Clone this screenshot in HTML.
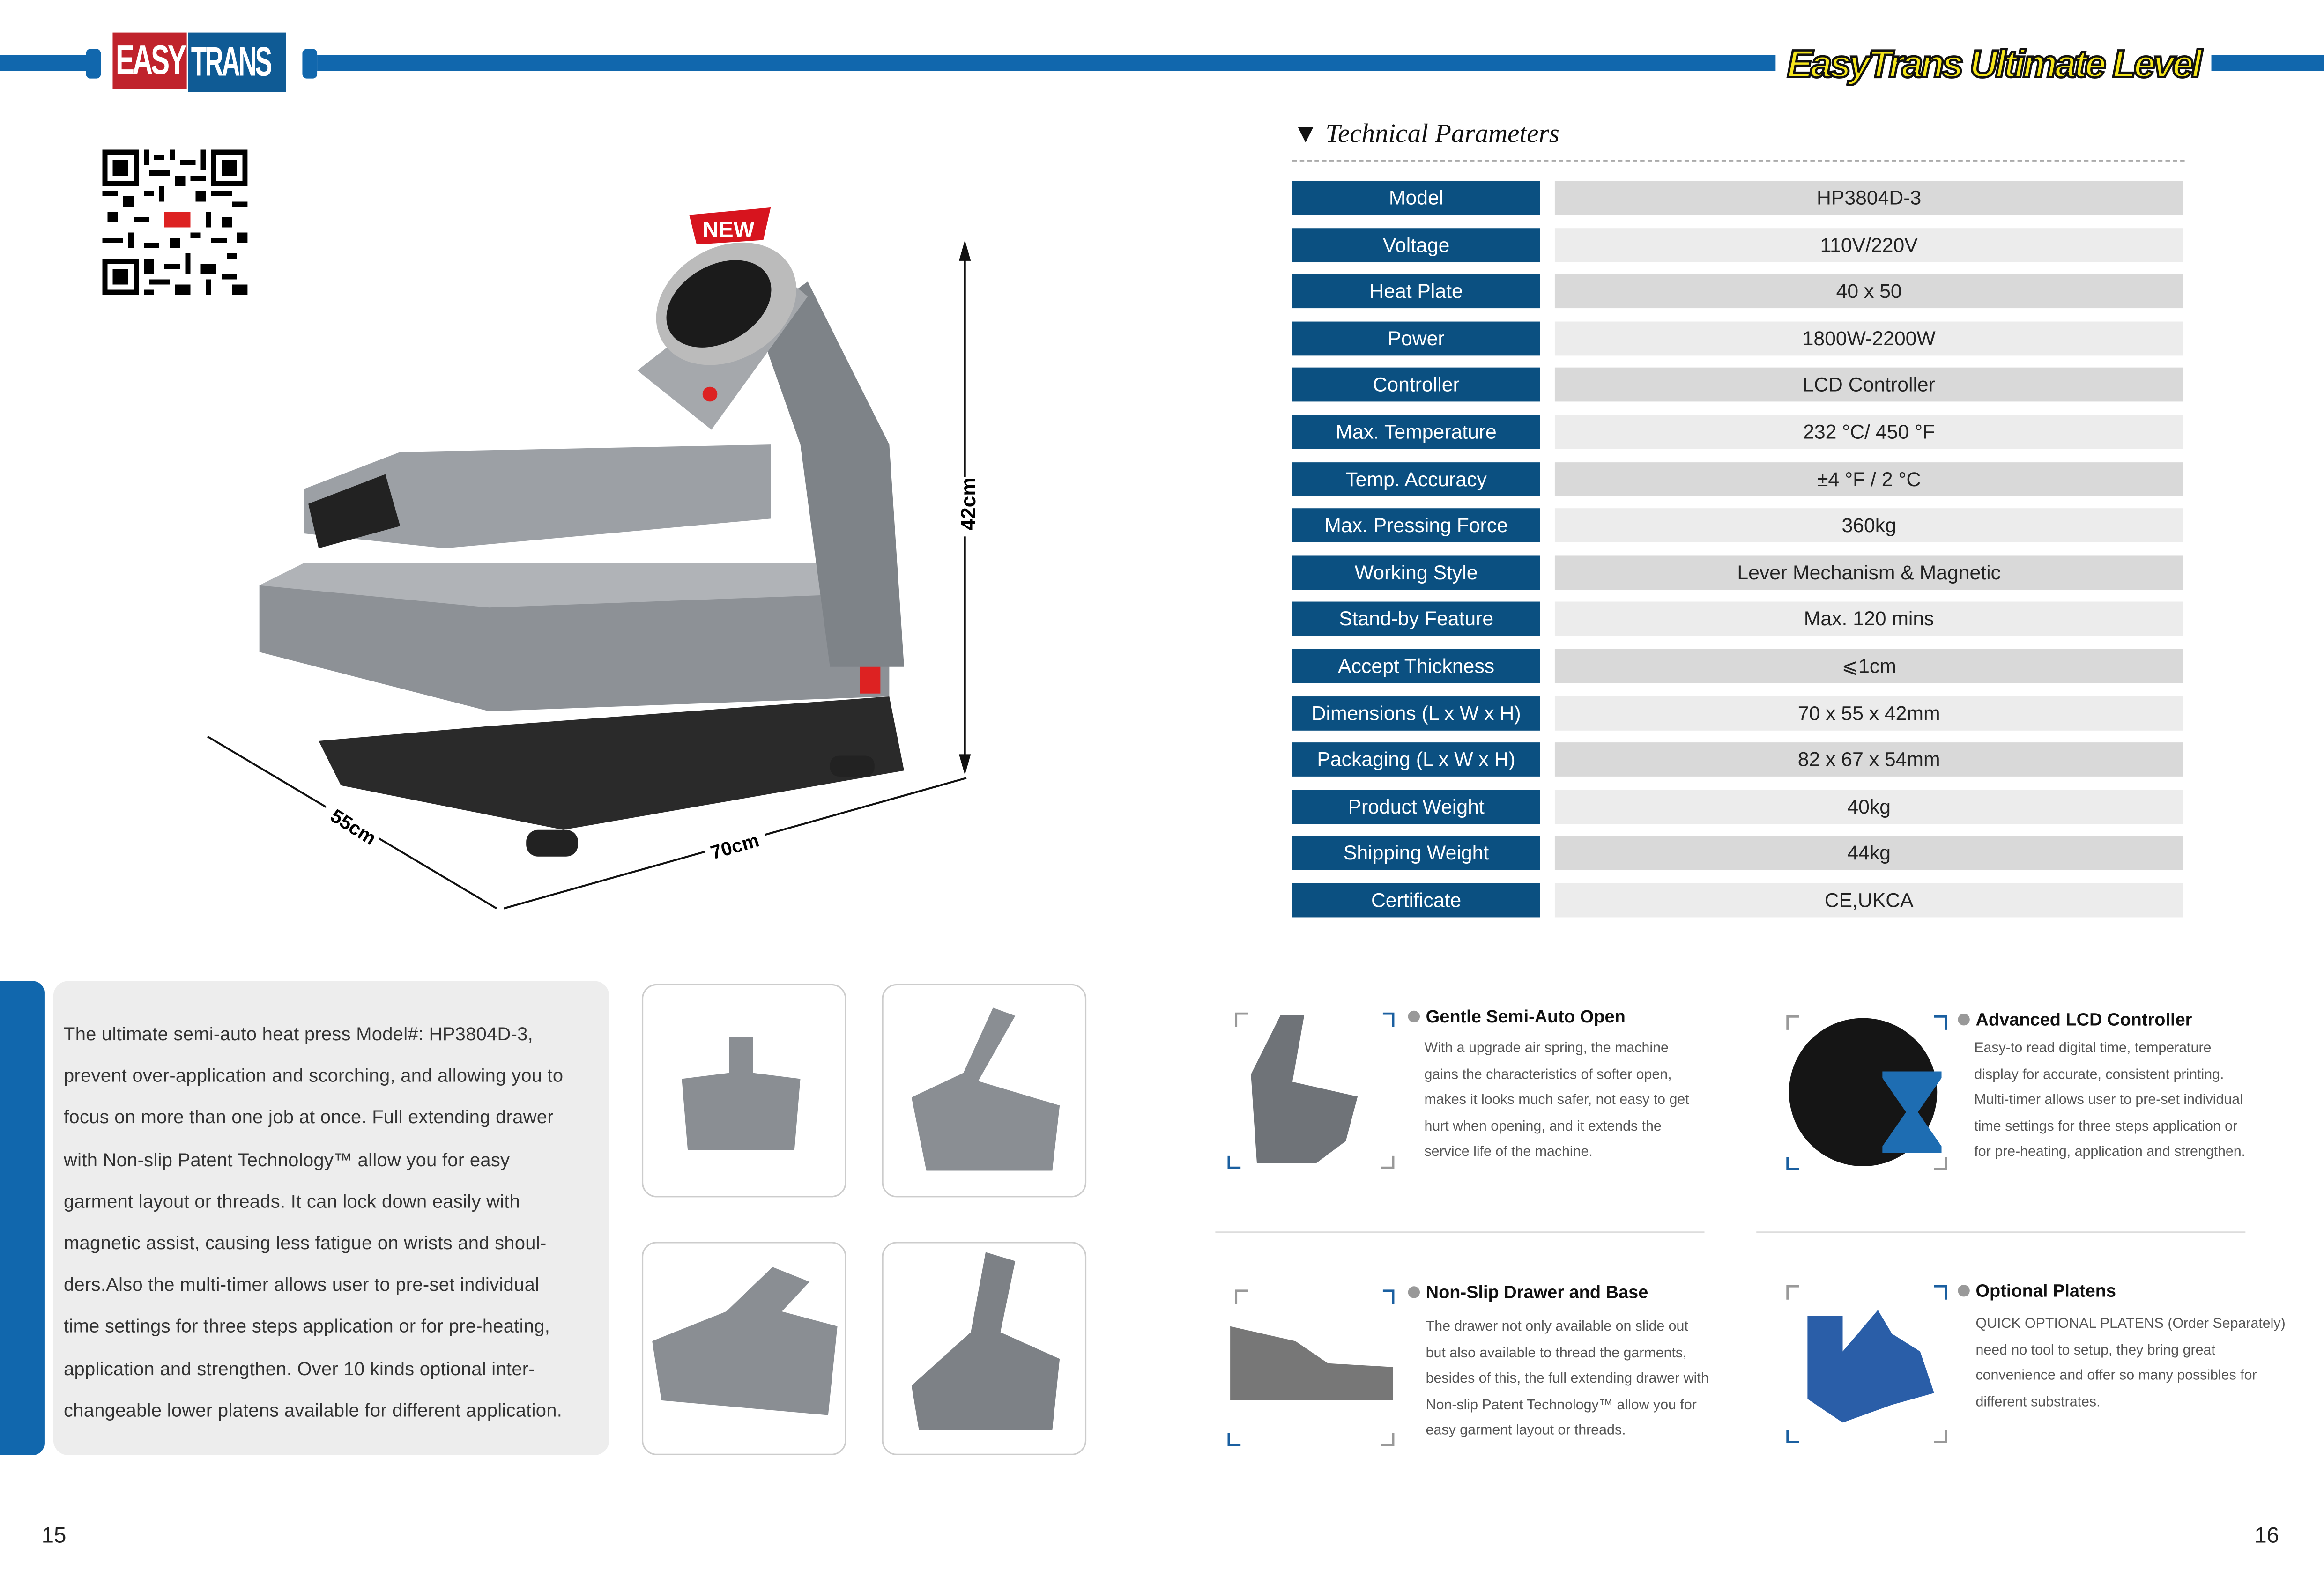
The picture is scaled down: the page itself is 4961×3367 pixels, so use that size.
<!DOCTYPE html>
<html><head><meta charset="utf-8"><style>
html,body{margin:0;padding:0;background:#fff;overflow:hidden}
body{width:4961px;height:3367px}
#s{position:absolute;left:0;top:0;width:1568px;height:1064px;transform:scale(3.16390);transform-origin:0 0;font-family:"Liberation Sans",sans-serif;color:#333}
.a{position:absolute}
.l{position:absolute;left:872px;width:167px;height:23px;background:#0b5081;color:#fff;font-size:13.5px;line-height:23px;text-align:center}
.r{position:absolute;left:1049px;width:424px;height:23px;color:#222;font-size:13.5px;line-height:23px;text-align:center}
.t{position:absolute;font-size:9.6px;line-height:17.6px;color:#555;white-space:nowrap}
.h{position:absolute;font-size:12px;font-weight:bold;color:#111}
.h:before{content:"";display:inline-block;width:8px;height:8px;border-radius:50%;background:#999;margin-right:4px}
.th{position:absolute;width:136px;height:142px;border:1px solid #ccc;border-radius:10px;background:#fff}
</style></head><body><div id="s">
<!-- header -->
<div class="a" style="left:0;top:37px;width:62px;height:11px;background:#1167ad"></div>
<div class="a" style="left:58px;top:33px;width:10px;height:20px;background:#1167ad;border-radius:3px"></div>
<div class="a" style="left:204px;top:33px;width:10px;height:20px;background:#1167ad;border-radius:3px"></div>
<div class="a" style="left:214px;top:37px;width:984px;height:11px;background:#1167ad"></div>
<div class="a" style="left:1492px;top:37px;width:76px;height:11px;background:#1167ad"></div>
<div class="a" style="left:76px;top:22px;width:50px;height:38px;background:#c0232c;overflow:hidden"><div style="color:#fff;font:bold 28px/38px 'Liberation Sans',sans-serif;letter-spacing:-2px;transform:scaleX(.68);transform-origin:0 0;white-space:nowrap;padding-left:3px">EASY</div></div>
<div class="a" style="left:127px;top:22px;width:66px;height:40px;background:#0f5b95;overflow:hidden"><div style="color:#fff;font:bold 28px/40px 'Liberation Sans',sans-serif;letter-spacing:-2px;transform:scaleX(.62);transform-origin:0 0;white-space:nowrap;padding-left:3px">TRANS</div></div>
<div class="a" style="left:1205px;top:26px;width:280px;height:34px;color:#f5e61b;font:italic bold 26px/34px 'Liberation Sans',sans-serif;-webkit-text-stroke:1.5px #111;letter-spacing:-1.5px;text-align:center">EasyTrans Ultimate Level</div>
<!-- QR -->
<svg class="a" style="left:69px;top:101px" width="98" height="98" viewBox="0 0 28 28" shape-rendering="crispEdges">
<rect width="28" height="28" fill="#fff"/>
<g fill="#000"><rect x="0" y="0" width="7" height="7"/><rect x="21" y="0" width="7" height="7"/><rect x="0" y="21" width="7" height="7"/></g>
<g fill="#fff"><rect x="1" y="1" width="5" height="5"/><rect x="22" y="1" width="5" height="5"/><rect x="1" y="22" width="5" height="5"/></g>
<g fill="#000"><rect x="2" y="2" width="3" height="3"/><rect x="23" y="2" width="3" height="3"/><rect x="2" y="23" width="3" height="3"/>
<rect x="8" y="0" width="1" height="3"/><rect x="10" y="1" width="2" height="1"/><rect x="13" y="0" width="1" height="2"/><rect x="15" y="2" width="3" height="1"/><rect x="19" y="0" width="1" height="4"/><rect x="9" y="4" width="4" height="1"/><rect x="14" y="5" width="2" height="2"/><rect x="17" y="5" width="3" height="1"/>
<rect x="0" y="8" width="3" height="1"/><rect x="4" y="9" width="2" height="2"/><rect x="8" y="8" width="2" height="1"/><rect x="11" y="7" width="1" height="3"/><rect x="18" y="8" width="2" height="2"/><rect x="21" y="8" width="4" height="1"/><rect x="25" y="10" width="3" height="1"/>
<rect x="1" y="12" width="2" height="2"/><rect x="6" y="13" width="3" height="1"/><rect x="20" y="12" width="1" height="3"/><rect x="23" y="13" width="2" height="2"/>
<rect x="0" y="17" width="4" height="1"/><rect x="5" y="16" width="1" height="3"/><rect x="8" y="18" width="3" height="1"/><rect x="13" y="17" width="2" height="2"/><rect x="17" y="16" width="2" height="1"/><rect x="21" y="17" width="3" height="1"/><rect x="26" y="16" width="2" height="2"/>
<rect x="8" y="21" width="2" height="3"/><rect x="12" y="22" width="3" height="1"/><rect x="16" y="20" width="1" height="4"/><rect x="19" y="22" width="3" height="2"/><rect x="24" y="20" width="2" height="1"/><rect x="9" y="25" width="4" height="1"/><rect x="14" y="26" width="3" height="2"/><rect x="20" y="25" width="1" height="3"/><rect x="23" y="24" width="3" height="1"/><rect x="25" y="26" width="3" height="2"/><rect x="8" y="27" width="2" height="1"/></g>
<rect x="11" y="11" width="7" height="5" fill="#fff"/><rect x="12" y="12" width="5" height="3" fill="#d22"/></svg>
<!-- product illustration -->
<svg class="a" style="left:130px;top:140px" width="540" height="480" viewBox="130 140 540 480">
<polygon points="465,145 520,140 515,162 470,165" fill="#d7141e"/>
<text x="474" y="160" font-size="15" font-weight="bold" fill="#fff" font-family="Liberation Sans">NEW</text>
<path d="M215,500 L330,490 L600,470 L610,520 L380,560 L230,530Z" fill="#2a2a2a"/>
<rect x="355" y="560" width="35" height="18" rx="8" fill="#222"/>
<rect x="560" y="510" width="30" height="14" rx="6" fill="#222"/>
<path d="M175,395 L205,380 L560,380 L600,400 L600,470 L330,480 L175,440Z" fill="#8d9196"/>
<path d="M175,395 L205,380 L560,380 L600,400 L330,410Z" fill="#b0b3b7"/>
<path d="M510,215 L545,190 L600,300 L610,450 L560,450 L540,300Z" fill="#7e8388"/>
<path d="M205,330 L270,305 L520,300 L520,350 L300,370 L205,360Z" fill="#9ca0a5"/>
<path d="M208,340 L260,320 L270,355 L215,370Z" fill="#222"/>
<path d="M430,250 L520,180 L545,200 L480,290Z" fill="#a5a8ac"/>
<ellipse cx="490" cy="205" rx="50" ry="38" fill="#bbb" transform="rotate(-30 490 205)"/>
<ellipse cx="485" cy="205" rx="38" ry="26" fill="#1b1b1b" transform="rotate(-30 485 205)"/>
<circle cx="479" cy="266" r="5" fill="#d22"/>
<rect x="580" y="450" width="14" height="18" fill="#d22"/>
<line x1="651" y1="165" x2="651" y2="520" stroke="#111" stroke-width="1.3"/>
<polygon points="651,162 647,176 655,176" fill="#111"/><polygon points="651,523 647,509 655,509" fill="#111"/>
<line x1="140" y1="497" x2="335" y2="613" stroke="#111" stroke-width="1.3"/>
<line x1="340" y1="613" x2="652" y2="525" stroke="#111" stroke-width="1.3"/>
<rect x="638" y="322" width="26" height="40" fill="#fff"/>
<text x="658" y="358" font-size="14" font-weight="bold" transform="rotate(-90 658 358)" font-family="Liberation Sans">42cm</text>
<rect x="220" y="540" width="36" height="32" fill="#fff"/><text x="222" y="553" font-size="13" font-weight="bold" transform="rotate(32 222 553)" font-family="Liberation Sans">55cm</text>
<rect x="476" y="556" width="40" height="26" fill="#fff"/><text x="481" y="580" font-size="13" font-weight="bold" transform="rotate(-16 481 580)" font-family="Liberation Sans">70cm</text>
</svg>
<!-- Tech params -->
<div class="a" style="left:872px;top:80px;font:italic 18px 'Liberation Serif',serif;color:#111">▼ Technical Parameters</div>
<div class="a" style="left:872px;top:108px;width:602px;border-top:1.5px dashed #aaa"></div>
<div class="l" style="top:122px">Model</div><div class="r" style="top:122px;background:#d9d9d9">HP3804D-3</div>
<div class="l" style="top:153.6px">Voltage</div><div class="r" style="top:153.6px;background:#ececec">110V/220V</div>
<div class="l" style="top:185.2px">Heat Plate</div><div class="r" style="top:185.2px;background:#d9d9d9">40 x 50</div>
<div class="l" style="top:216.8px">Power</div><div class="r" style="top:216.8px;background:#ececec">1800W-2200W</div>
<div class="l" style="top:248.4px">Controller</div><div class="r" style="top:248.4px;background:#d9d9d9">LCD Controller</div>
<div class="l" style="top:280px">Max. Temperature</div><div class="r" style="top:280px;background:#ececec">232 °C/ 450 °F</div>
<div class="l" style="top:311.6px">Temp. Accuracy</div><div class="r" style="top:311.6px;background:#d9d9d9">±4 °F / 2 °C</div>
<div class="l" style="top:343.2px">Max. Pressing Force</div><div class="r" style="top:343.2px;background:#ececec">360kg</div>
<div class="l" style="top:374.8px">Working Style</div><div class="r" style="top:374.8px;background:#d9d9d9">Lever Mechanism &amp; Magnetic</div>
<div class="l" style="top:406.4px">Stand-by Feature</div><div class="r" style="top:406.4px;background:#ececec">Max. 120 mins</div>
<div class="l" style="top:438px">Accept Thickness</div><div class="r" style="top:438px;background:#d9d9d9">⩽1cm</div>
<div class="l" style="top:469.6px">Dimensions (L x W x H)</div><div class="r" style="top:469.6px;background:#ececec">70 x 55 x 42mm</div>
<div class="l" style="top:501.2px">Packaging (L x W x H)</div><div class="r" style="top:501.2px;background:#d9d9d9">82 x 67 x 54mm</div>
<div class="l" style="top:532.8px">Product Weight</div><div class="r" style="top:532.8px;background:#ececec">40kg</div>
<div class="l" style="top:564.4px">Shipping Weight</div><div class="r" style="top:564.4px;background:#d9d9d9">44kg</div>
<div class="l" style="top:596px">Certificate</div><div class="r" style="top:596px;background:#ececec">CE,UKCA</div>
<!-- left description -->
<div class="a" style="left:0;top:662px;width:30px;height:320px;background:#1167ad;border-radius:0 8px 8px 0"></div>
<div class="a" style="left:36px;top:662px;width:375px;height:320px;background:#ededed;border-radius:10px"></div>
<div class="a" style="left:43px;top:684px;font-size:12.6px;line-height:28.2px;color:#333;white-space:nowrap;letter-spacing:0.1px">The ultimate semi-auto heat press Model#: HP3804D-3,<br>prevent over-application and scorching, and allowing you to<br>focus on more than one job at once. Full extending drawer<br>with Non-slip Patent Technology™ allow you for easy<br>garment layout or threads. It can lock down easily with<br>magnetic assist, causing less fatigue on wrists and shoul-<br>ders.Also the multi-timer allows user to pre-set individual<br>time settings for three steps application or for pre-heating,<br>application and strengthen. Over 10 kinds optional inter-<br>changeable lower platens available for different application.</div>
<div class="th" style="left:433px;top:664px"></div><div class="th" style="left:595px;top:664px"></div>
<div class="th" style="left:433px;top:838px"></div><div class="th" style="left:595px;top:838px"></div>
<div class="a" style="left:460px;top:700px;width:80px;height:80px;background:#8a8e93;clip-path:polygon(40% 0,60% 0,60% 30%,100% 35%,95% 95%,5% 95%,0 35%,40% 30%)"></div>
<div class="a" style="left:615px;top:680px;width:100px;height:110px;background:#8a8e93;clip-path:polygon(55% 0,70% 5%,45% 45%,100% 60%,95% 100%,10% 100%,0 55%,35% 40%)"></div>
<div class="a" style="left:440px;top:855px;width:125px;height:100px;background:#8a8e93;clip-path:polygon(65% 0,85% 10%,70% 30%,100% 40%,95% 100%,5% 90%,0 50%,40% 30%)"></div>
<div class="a" style="left:615px;top:845px;width:100px;height:120px;background:#7d8186;clip-path:polygon(50% 0,70% 5%,60% 45%,100% 60%,95% 100%,5% 100%,0 75%,40% 45%)"></div>
<!-- features -->
<div class="a" style="left:820px;top:831px;width:330px;border-top:1.5px solid #ddd"></div>
<div class="a" style="left:1185px;top:831px;width:330px;border-top:1.5px solid #ddd"></div>
<div class="a" style="left:840px;top:685px;width:80px;height:100px;background:#6f7378;clip-path:polygon(30% 0,50% 0,40% 45%,95% 55%,85% 85%,60% 100%,10% 100%,5% 40%)"></div>
<div class="a" style="left:1207px;top:687px;width:100px;height:100px;border-radius:50%;background:#151515"></div>
<div class="a" style="left:1270px;top:723px;width:40px;height:55px;background:#1e6db2;clip-path:polygon(0 0,100% 0,100% 8%,60% 50%,100% 92%,100% 100%,0 100%,0 92%,40% 50%,0 8%)"></div>
<div class="a" style="left:830px;top:895px;width:110px;height:50px;background:#777;clip-path:polygon(0 0,40% 20%,60% 50%,100% 55%,100% 100%,0 100%)"></div>
<div class="a" style="left:1210px;top:880px;width:95px;height:80px;background:#2a5ea8;clip-path:polygon(10% 10%,35% 10%,35% 40%,60% 5%,70% 25%,90% 40%,100% 75%,70% 85%,35% 100%,10% 80%)"></div>
<svg class="a" style="left:828px;top:683px" width="700" height="295">
<g fill="none" stroke-width="1.5"><path d="M6,10V1H14" stroke="#999"/><path d="M105,1H112V10" stroke="#1a5fa0"/><path d="M1,97V105H9" stroke="#1a5fa0"/><path d="M112,97V105H104" stroke="#999"/>
<path d="M378,12V3H386" stroke="#999"/><path d="M477,3H485V12" stroke="#1a5fa0"/><path d="M378,98V106H386" stroke="#1a5fa0"/><path d="M485,98V106H477" stroke="#999"/>
<path d="M6,197V188H14" stroke="#999"/><path d="M105,188H112V197" stroke="#1a5fa0"/><path d="M1,284V292H9" stroke="#1a5fa0"/><path d="M112,284V292H104" stroke="#999"/>
<path d="M378,194V185H386" stroke="#999"/><path d="M477,185H485V194" stroke="#1a5fa0"/><path d="M378,282V290H386" stroke="#1a5fa0"/><path d="M485,282V290H477" stroke="#999"/></g></svg>
<div class="h" style="left:950px;top:679px">Gentle Semi-Auto Open</div>
<div class="t" style="left:961px;top:699px">With a upgrade air spring, the machine<br>gains the characteristics of softer open,<br>makes it looks much safer, not easy to get<br>hurt when opening, and it extends the<br>service life of the machine.</div>
<div class="h" style="left:1321px;top:681px">Advanced LCD Controller</div>
<div class="t" style="left:1332px;top:699px">Easy-to read digital time, temperature<br>display for accurate, consistent printing.<br>Multi-timer allows user to pre-set individual<br>time settings for three steps application or<br>for pre-heating, application and strengthen.</div>
<div class="h" style="left:950px;top:865px">Non-Slip Drawer and Base</div>
<div class="t" style="left:962px;top:887px">The drawer not only available on slide out<br>but also available to thread the garments,<br>besides of this, the full extending drawer with<br>Non-slip Patent Technology™ allow you for<br>easy garment layout or threads.</div>
<div class="h" style="left:1321px;top:864px">Optional Platens</div>
<div class="t" style="left:1333px;top:885px">QUICK OPTIONAL PLATENS (Order Separately)<br>need no tool to setup, they bring great<br>convenience and offer so many possibles for<br>different substrates.</div>
<div class="a" style="left:28px;top:1028px;font-size:15px;color:#222">15</div>
<div class="a" style="left:1521px;top:1028px;font-size:15px;color:#222">16</div>
</div></body></html>
